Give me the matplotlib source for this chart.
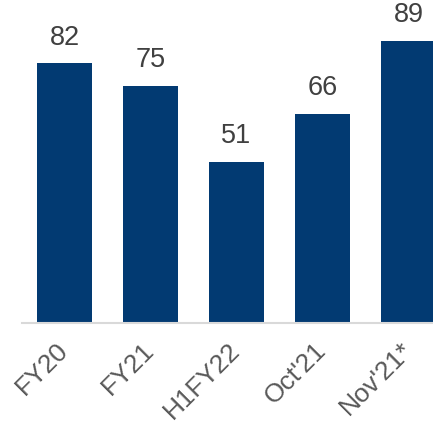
import matplotlib.pyplot as plt

categories = ["FY20", "FY21", "H1FY22", "Oct'21", "Nov'21*"]
values = [82, 75, 51, 66, 89]

plt.rcParams['font.family'] = ['Liberation Sans', 'DejaVu Sans']

fig = plt.figure(figsize=(4.33, 4.26), dpi=100)
ax = fig.add_axes([22 / 433, 103 / 426, 411 / 433, 323 / 426])

x = range(len(categories))
bars = ax.bar(x, values, width=0.64, color='#023A72')

# value labels above each bar
for xi, v in zip(x, values):
    ax.text(xi, v + 4.0, str(v), ha='center', va='bottom', fontsize=19.5, color='#404040')

ax.set_xlim(-0.494, 4.285)
ax.set_ylim(0, 102)

ax.set_xticks(list(x))
ax.set_xticklabels(categories, rotation=45, ha='right', va='center',
                   rotation_mode='anchor', fontsize=19, color='#595959')
ax.tick_params(axis='x', length=0, pad=17)
ax.set_yticks([])

for s in ['top', 'right', 'left']:
    ax.spines[s].set_visible(False)
ax.spines['bottom'].set_color('#D9D9D9')
ax.spines['bottom'].set_linewidth(1.5)

fig.savefig('out.png', dpi=100)
